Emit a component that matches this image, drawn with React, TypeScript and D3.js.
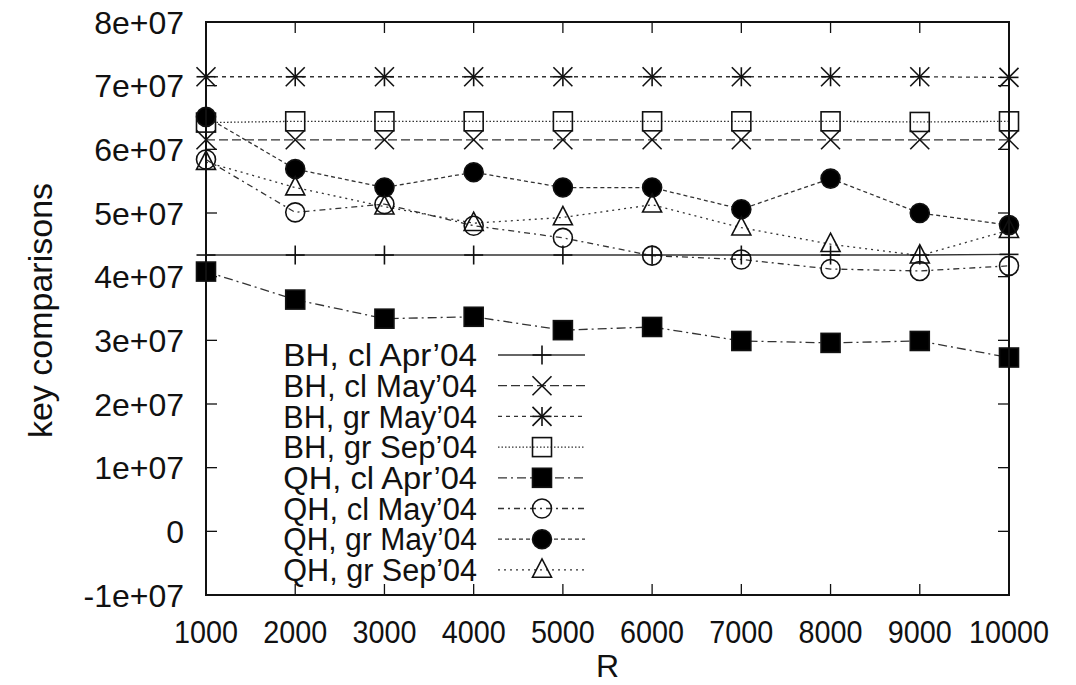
import { useEffect, useRef } from 'react'
import * as d3 from 'd3'

// R values along the x axis
const rValues = [1000, 2000, 3000, 4000, 5000, 6000, 7000, 8000, 9000, 10000]
const yTicks = [-1e7, 0, 1e7, 2e7, 3e7, 4e7, 5e7, 6e7, 7e7, 8e7]

const bhClApr = [4.34e7, 4.34e7, 4.34e7, 4.34e7, 4.34e7, 4.34e7, 4.34e7, 4.34e7, 4.34e7, 4.35e7]
const bhClMay = [6.15e7, 6.15e7, 6.15e7, 6.15e7, 6.15e7, 6.15e7, 6.15e7, 6.15e7, 6.15e7, 6.15e7]
const bhGrMay = [7.14e7, 7.14e7, 7.14e7, 7.14e7, 7.14e7, 7.14e7, 7.14e7, 7.14e7, 7.14e7, 7.13e7]
const bhGrSep = [6.42e7, 6.44e7, 6.44e7, 6.44e7, 6.44e7, 6.44e7, 6.44e7, 6.44e7, 6.43e7, 6.44e7]
const qhClApr = [4.08e7, 3.64e7, 3.34e7, 3.37e7, 3.16e7, 3.21e7, 2.99e7, 2.96e7, 2.99e7, 2.73e7]
const qhClMay = [5.84e7, 5.01e7, 5.14e7, 4.80e7, 4.61e7, 4.33e7, 4.27e7, 4.12e7, 4.09e7, 4.17e7]
const qhGrMay = [6.51e7, 5.69e7, 5.40e7, 5.64e7, 5.40e7, 5.40e7, 5.06e7, 5.54e7, 5.00e7, 4.81e7]
const qhGrSep = [5.80e7, 5.40e7, 5.10e7, 4.84e7, 4.93e7, 5.13e7, 4.77e7, 4.51e7, 4.33e7, 4.73e7]

const yTickLabels = ['-1e+07', '0', '1e+07', '2e+07', '3e+07', '4e+07', '5e+07', '6e+07', '7e+07', '8e+07']

const series = [
  { name: 'BH, cl Apr\u201904', values: bhClApr, dash: null, marker: 'plus' },
  { name: 'BH, cl May\u201904', values: bhClMay, dash: '9,4', marker: 'cross' },
  { name: 'BH, gr May\u201904', values: bhGrMay, dash: '4,4', marker: 'star' },
  { name: 'BH, gr Sep\u201904', values: bhGrSep, dash: '1.5,2', marker: 'square' },
  { name: 'QH, cl Apr\u201904', values: qhClApr, dash: '9,4,2,4', marker: 'fsquare' },
  { name: 'QH, cl May\u201904', values: qhClMay, dash: '6,4,2,4', marker: 'circle' },
  { name: 'QH, gr May\u201904', values: qhGrMay, dash: '4,3', marker: 'fcircle' },
  { name: 'QH, gr Sep\u201904', values: qhGrSep, dash: '2,4', marker: 'triangle' },
]

const FONT = 'Liberation Sans, Arial, sans-serif'

function drawMarker(g, type, x, y) {
  const s = 9.5
  const line = (x1, y1, x2, y2) => {
    g.append('line').attr('x1', x1).attr('y1', y1).attr('x2', x2).attr('y2', y2)
      .attr('stroke', '#111').attr('stroke-width', 1.6)
  }
  if (type === 'plus') {
    line(x - s, y, x + s, y); line(x, y - s, x, y + s)
  } else if (type === 'cross') {
    line(x - s, y - s, x + s, y + s); line(x - s, y + s, x + s, y - s)
  } else if (type === 'star') {
    line(x - s, y - s, x + s, y + s); line(x - s, y + s, x + s, y - s)
    line(x, y - s, x, y + s)
    line(x - s, y, x + s, y)
  } else if (type === 'square' || type === 'fsquare') {
    g.append('rect').attr('x', x - s).attr('y', y - s).attr('width', 2 * s).attr('height', 2 * s)
      .attr('fill', type === 'fsquare' ? '#000' : 'none').attr('stroke', '#111').attr('stroke-width', 1.6)
  } else if (type === 'circle' || type === 'fcircle') {
    g.append('circle').attr('cx', x).attr('cy', y).attr('r', s)
      .attr('fill', type === 'fcircle' ? '#000' : 'none').attr('stroke', '#111').attr('stroke-width', 1.6)
  } else if (type === 'triangle') {
    const h = s * 1.1
    g.append('path').attr('d', `M${x - s},${y + h * 0.7}L${x + s},${y + h * 0.7}L${x},${y - h * 1.05}Z`)
      .attr('fill', 'none').attr('stroke', '#111').attr('stroke-width', 1.6)
  }
}

export default function App() {
  const svgRef = useRef(null)
  const width = 1076
  const height = 685

  useEffect(() => {
    document.body.style.margin = '0'
    const el = svgRef.current
    if (!el) return
    const margin = { top: 22, right: 67, bottom: 90, left: 206 }
    const w = width - margin.left - margin.right
    const h = height - margin.top - margin.bottom

    const x = d3.scaleLinear().domain([1000, 10000]).range([0, w])
    const y = d3.scaleLinear().domain([-1e7, 8e7]).range([h, 0])

    const svg = d3.select(el)
    svg.selectAll('*').remove()
    svg.append('rect').attr('width', width).attr('height', height).attr('fill', '#fff')

    const g = svg.append('g').attr('transform', `translate(${margin.left},${margin.top})`)

    // ticks (mirrored, pointing inward)
    const tl = 11
    yTicks.forEach((t, i) => {
      g.append('line').attr('x1', 0).attr('x2', tl).attr('y1', y(t)).attr('y2', y(t)).attr('stroke', '#111').attr('stroke-width', 1.3)
      g.append('line').attr('x1', w - tl).attr('x2', w).attr('y1', y(t)).attr('y2', y(t)).attr('stroke', '#111').attr('stroke-width', 1.3)
      g.append('text').attr('x', -22).attr('y', y(t)).attr('dy', '0.36em')
        .attr('text-anchor', 'end').attr('font-family', FONT).attr('font-size', 32).attr('fill', '#111')
        .text(yTickLabels[i])
    })
    rValues.forEach(t => {
      g.append('line').attr('x1', x(t)).attr('x2', x(t)).attr('y1', h).attr('y2', h - tl).attr('stroke', '#111').attr('stroke-width', 1.3)
      g.append('line').attr('x1', x(t)).attr('x2', x(t)).attr('y1', 0).attr('y2', tl).attr('stroke', '#111').attr('stroke-width', 1.3)
      g.append('text').attr('x', x(t)).attr('y', h + 48)
        .attr('text-anchor', 'middle').attr('font-family', FONT).attr('font-size', 31).attr('fill', '#111')
        .attr('textLength', String(t).length * 16).attr('lengthAdjust', 'spacingAndGlyphs')
        .text(String(t))
    })

    // series lines
    series.forEach(s => {
      const lineFn = d3.line().x((d, i) => x(rValues[i])).y(d => y(d))
      g.append('path').datum(s.values).attr('d', lineFn)
        .attr('fill', 'none').attr('stroke', '#333').attr('stroke-width', 1.3)
        .attr('stroke-dasharray', s.dash)
    })
    series.forEach(s => {
      s.values.forEach((v, i) => drawMarker(g, s.marker, x(rValues[i]), y(v)))
    })

    // legend
    const lg = svg.append('g')
    series.forEach((s, i) => {
      const ly = 355 + i * 30.7
      lg.append('text').attr('x', 477).attr('y', ly).attr('dy', '0.36em')
        .attr('text-anchor', 'end').attr('font-family', FONT).attr('font-size', 31).attr('fill', '#111')
        .attr('textLength', s.name.length * 14.9).attr('lengthAdjust', 'spacingAndGlyphs')
        .text(s.name)
      lg.append('line').attr('x1', 498).attr('x2', 585).attr('y1', ly).attr('y2', ly)
        .attr('stroke', '#333').attr('stroke-width', 1.3).attr('stroke-dasharray', s.dash)
      drawMarker(lg, s.marker, 542, ly)
    })

    // border
    g.append('rect').attr('x', 0).attr('y', 0).attr('width', w).attr('height', h)
      .attr('fill', 'none').attr('stroke', '#111').attr('stroke-width', 2)

    // axis titles
    svg.append('text').attr('x', margin.left + w / 2).attr('y', 677)
      .attr('text-anchor', 'middle').attr('font-family', FONT).attr('font-size', 32).attr('fill', '#111')
      .text('R')
    svg.append('text').attr('transform', `translate(52,${margin.top + h / 2 + 2}) rotate(-90)`)
      .attr('text-anchor', 'middle').attr('font-family', FONT).attr('font-size', 34).attr('fill', '#111')
      .text('key comparisons')
  }, [])

  return <svg ref={svgRef} width={width} height={height} style={{ display: 'block' }} />
}
